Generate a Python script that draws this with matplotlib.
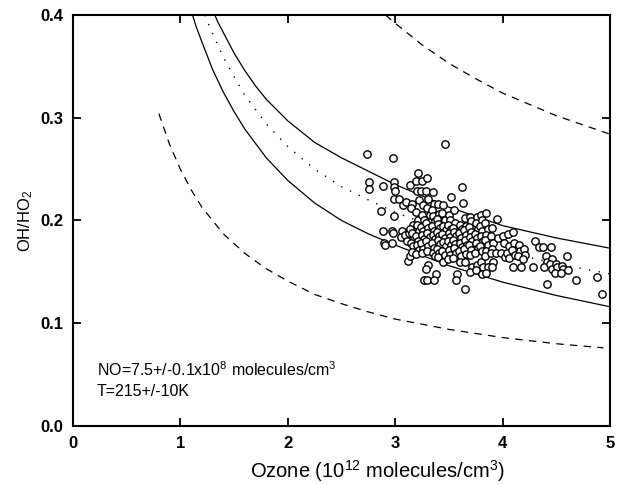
import matplotlib
matplotlib.use("Agg")
import matplotlib.pyplot as plt

plt.rcParams['font.family'] = ['Liberation Sans', 'DejaVu Sans']
plt.rcParams['mathtext.default'] = 'regular'

# --- model curves ---
lo_solid_x = [1.113, 1.15, 1.2, 1.3, 1.4, 1.5, 1.6, 1.8, 2.0, 2.25, 2.5, 2.75, 3.0, 3.5, 4.0, 4.5, 5.0]
lo_solid_y = [0.400, 0.388, 0.374, 0.347, 0.325, 0.306, 0.289, 0.261, 0.239, 0.217, 0.200, 0.187, 0.176, 0.156, 0.140, 0.127, 0.116]

up_solid_x = [1.321, 1.35, 1.4, 1.5, 1.6, 1.7, 1.8, 2.0, 2.25, 2.5, 2.75, 3.0, 3.5, 4.0, 4.5, 5.0]
up_solid_y = [0.400, 0.393, 0.383, 0.363, 0.346, 0.331, 0.318, 0.297, 0.276, 0.261, 0.248, 0.235, 0.213, 0.195, 0.183, 0.173]

dotted_x = [1.228, 1.25, 1.3, 1.4, 1.5, 1.6, 1.8, 2.0, 2.25, 2.5, 2.75, 3.0, 3.5, 4.0, 4.5, 5.0]
dotted_y = [0.400, 0.394, 0.382, 0.359, 0.340, 0.322, 0.294, 0.272, 0.250, 0.233, 0.220, 0.208, 0.188, 0.170, 0.158, 0.148]

lo_dash_x = [0.8, 0.9, 1.0, 1.1, 1.2, 1.4, 1.6, 1.8, 2.0, 2.25, 2.5, 2.75, 3.0, 3.5, 4.0, 4.5, 4.94]
lo_dash_y = [0.304, 0.274, 0.250, 0.230, 0.213, 0.187, 0.168, 0.153, 0.141, 0.128, 0.119, 0.111, 0.104, 0.094, 0.086, 0.080, 0.076]

up_dash_x = [2.91, 3.0, 3.25, 3.5, 3.75, 4.0, 4.25, 4.5, 4.75, 5.0]
up_dash_y = [0.400, 0.392, 0.371, 0.353, 0.338, 0.324, 0.313, 0.302, 0.293, 0.284]

# --- observations ---
ozone_obs = [
    2.74, 2.76, 2.76,
    2.87, 2.89, 2.89, 2.90, 2.91,
    2.98, 2.99, 2.99, 3.00, 2.99, 2.99, 2.97, 2.98, 2.97,
    3.04, 3.06, 3.05, 3.07,
    3.10, 3.11, 3.09, 3.12, 3.11, 3.13,
    3.14, 3.16, 3.15, 3.17, 3.14, 3.16, 3.15, 3.17, 3.14, 3.16,
    3.21, 3.19, 3.20, 3.22, 3.19, 3.21, 3.20, 3.22, 3.19, 3.21, 3.20, 3.22, 3.19,
    3.25, 3.24, 3.26, 3.25, 3.27, 3.24, 3.26, 3.25, 3.27, 3.24, 3.26, 3.25, 3.27,
    3.30, 3.29, 3.31, 3.30, 3.32, 3.29, 3.31, 3.30, 3.32, 3.29, 3.31, 3.30, 3.31, 3.29, 3.30,
    3.35, 3.36, 3.34, 3.35, 3.37, 3.34, 3.36, 3.35, 3.37, 3.34, 3.36, 3.35, 3.37, 3.38, 3.36,
    3.40, 3.41, 3.39, 3.40, 3.42, 3.39, 3.41, 3.40, 3.42, 3.39, 3.41, 3.40,
    3.46, 3.45, 3.44, 3.46, 3.45, 3.47, 3.44, 3.46, 3.45, 3.47, 3.44, 3.46, 3.45,
    3.52, 3.50, 3.51, 3.49, 3.52, 3.50, 3.51, 3.49, 3.52, 3.50, 3.51, 3.49,
    3.55, 3.56, 3.54, 3.55, 3.57, 3.54, 3.56, 3.55, 3.57, 3.54, 3.58, 3.57,
    3.62, 3.63, 3.60, 3.62, 3.59, 3.61, 3.60, 3.62, 3.59, 3.61, 3.60,
    3.65, 3.66, 3.64, 3.66, 3.65, 3.67, 3.64, 3.66, 3.65, 3.65,
    3.70, 3.71, 3.69, 3.71, 3.70, 3.72, 3.69, 3.71, 3.70, 3.72, 3.70,
    3.76, 3.75, 3.77, 3.74, 3.76, 3.75, 3.77, 3.74, 3.76, 3.75,
    3.80, 3.81, 3.79, 3.81, 3.80, 3.82, 3.79, 3.81, 3.80, 3.82, 3.81,
    3.85, 3.84, 3.86, 3.85, 3.84, 3.86, 3.85, 3.84, 3.86, 3.85,
    3.90, 3.89, 3.91, 3.90, 3.89, 3.91, 3.90,
    3.95, 3.96, 3.94,
    4.00, 4.01, 3.99, 4.02,
    4.05, 4.06, 4.04, 4.06,
    4.10, 4.11, 4.09, 4.12, 4.10,
    4.15, 4.16, 4.14, 4.17,
    4.20, 4.21, 4.19,
    4.28, 4.30, 4.34, 4.38,
    4.40, 4.41, 4.39, 4.41,
    4.45, 4.46, 4.44, 4.46,
    4.50, 4.51, 4.49,
    4.55, 4.56, 4.54,
    4.60, 4.61, 4.68, 4.88, 4.93,
]
ratio_obs = [
    0.265, 0.237, 0.231,
    0.209, 0.234, 0.190, 0.178, 0.176,
    0.261, 0.237, 0.233, 0.229, 0.221, 0.204, 0.190, 0.188, 0.178,
    0.221, 0.190, 0.184, 0.215,
    0.218, 0.182, 0.186, 0.161, 0.180, 0.188,
    0.235, 0.216, 0.212, 0.196, 0.192, 0.188, 0.178, 0.175, 0.165, 0.169,
    0.246, 0.238, 0.229, 0.220, 0.208, 0.200, 0.196, 0.190, 0.185, 0.180, 0.176, 0.171, 0.167,
    0.238, 0.229, 0.215, 0.205, 0.200, 0.194, 0.190, 0.186, 0.182, 0.178, 0.172, 0.168, 0.142,
    0.241, 0.229, 0.221, 0.212, 0.205, 0.198, 0.193, 0.188, 0.184, 0.180, 0.175, 0.170, 0.157, 0.153, 0.142,
    0.228, 0.216, 0.210, 0.204, 0.199, 0.195, 0.190, 0.186, 0.182, 0.178, 0.173, 0.168, 0.165, 0.148, 0.142,
    0.216, 0.206, 0.201, 0.197, 0.193, 0.189, 0.185, 0.181, 0.177, 0.172, 0.168, 0.164,
    0.274, 0.215, 0.207, 0.200, 0.195, 0.191, 0.187, 0.183, 0.179, 0.175, 0.170, 0.166, 0.160,
    0.223, 0.205, 0.200, 0.196, 0.192, 0.188, 0.184, 0.180, 0.176, 0.171, 0.166, 0.162,
    0.210, 0.198, 0.193, 0.189, 0.185, 0.181, 0.177, 0.173, 0.168, 0.163, 0.148, 0.142,
    0.233, 0.217, 0.196, 0.192, 0.188, 0.183, 0.178, 0.174, 0.170, 0.165, 0.160,
    0.202, 0.195, 0.191, 0.186, 0.181, 0.176, 0.172, 0.167, 0.160, 0.133,
    0.203, 0.199, 0.194, 0.189, 0.184, 0.180, 0.176, 0.171, 0.166, 0.155, 0.150,
    0.203, 0.198, 0.192, 0.187, 0.183, 0.178, 0.173, 0.168, 0.157, 0.152,
    0.205, 0.200, 0.195, 0.190, 0.185, 0.180, 0.175, 0.170, 0.160, 0.155, 0.148,
    0.207, 0.198, 0.192, 0.186, 0.181, 0.176, 0.170, 0.165, 0.155, 0.149,
    0.193, 0.185, 0.178, 0.172, 0.168, 0.160, 0.155,
    0.201, 0.183, 0.168,
    0.185, 0.178, 0.168, 0.164,
    0.187, 0.175, 0.168, 0.163,
    0.189, 0.178, 0.171, 0.166, 0.155,
    0.176, 0.170, 0.165, 0.155,
    0.172, 0.166, 0.162,
    0.155, 0.180, 0.174, 0.174,
    0.165, 0.160, 0.155, 0.138,
    0.174, 0.162, 0.158, 0.153,
    0.158, 0.155, 0.149,
    0.156, 0.153, 0.149,
    0.165, 0.152, 0.142, 0.145, 0.128,
]

fig = plt.figure(figsize=(6.18, 4.84), dpi=100)
ax = fig.add_axes([0.118, 0.120, 0.869, 0.849])

ax.plot(lo_solid_x, lo_solid_y, color='black', lw=0.9)
ax.plot(up_solid_x, up_solid_y, color='black', lw=0.9)
ax.plot(dotted_x, dotted_y, color='black', lw=1.0, linestyle=(0, (1, 6)))
ax.plot(lo_dash_x, lo_dash_y, color='black', lw=0.9, linestyle=(0, (6, 5)))
ax.plot(up_dash_x, up_dash_y, color='black', lw=0.9, linestyle=(0, (6, 5)))

ax.plot(ozone_obs, ratio_obs, linestyle='none', marker='o', markersize=5.3,
        markerfacecolor='white', markeredgecolor='black', markeredgewidth=1.0)

ax.text(0.22, 0.0545, r'NO=7.5+/-0.1x10$^8$ molecules/cm$^3$', fontsize=11.5, va='center')
ax.text(0.22, 0.0334, 'T=215+/-10K', fontsize=11.5, va='center')

ax.set_xlim(0, 5)
ax.set_ylim(0, 0.4)
ax.set_xticks([0, 1, 2, 3, 4, 5])
ax.set_yticks([0.0, 0.1, 0.2, 0.3, 0.4])
ax.set_yticklabels(['0.0', '0.1', '0.2', '0.3', '0.4'])
ax.tick_params(direction='in', length=6, width=1.3, top=True, right=True,
               labelsize=12, pad=7)
for lab in ax.get_xticklabels() + ax.get_yticklabels():
    lab.set_fontweight('bold')
for s in ax.spines.values():
    s.set_linewidth(1.5)

ax.set_xlabel(r'Ozone (10$^{12}$ molecules/cm$^3$)', fontsize=14.5)
ax.xaxis.label.set_verticalalignment('center')
ax.xaxis.set_label_coords(0.568, -0.109)
ax.set_ylabel(r'OH/HO$_2$', fontsize=12)
ax.yaxis.label.set_verticalalignment('center')
ax.yaxis.set_label_coords(-0.088, 0.5)

fig.savefig('out.png', dpi=100)
